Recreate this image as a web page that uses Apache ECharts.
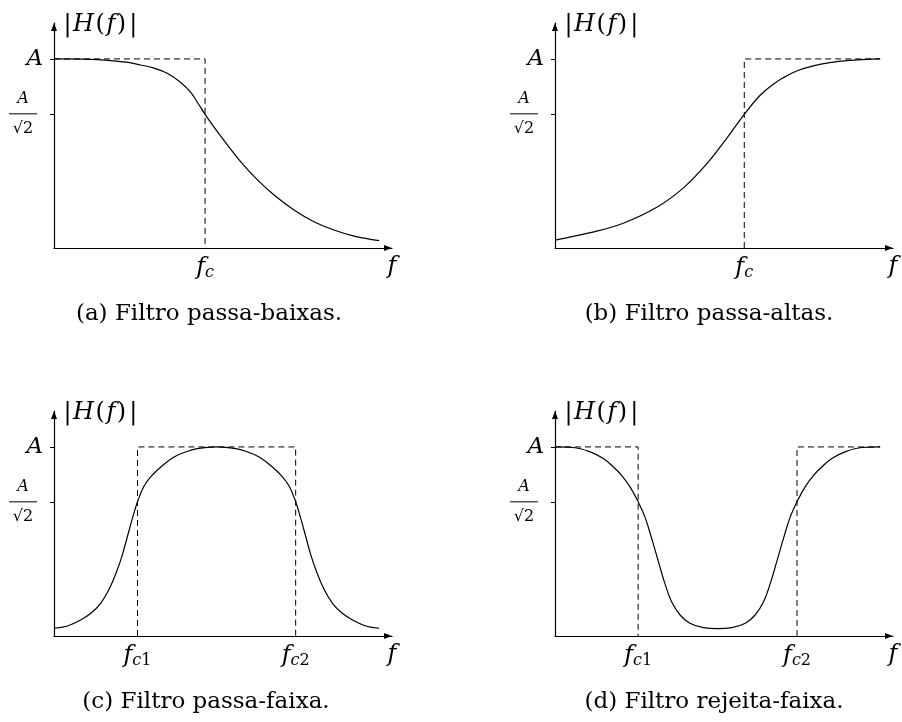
<!DOCTYPE html>
<html>
<head>
<meta charset="utf-8">
<script src="https://cdn.jsdelivr.net/npm/echarts@6/dist/echarts.min.js"></script>
<style>
  html, body { margin: 0; padding: 0; background: #fff; }
  #main { width: 902px; height: 722px; }
</style>
</head>
<body>
<div id="main"></div>
<script>
// eixo de frequência normalizado (0 .. fMax), ganho em unidades de A
const fMax = 10;
const gMax = 1.19;

// (a) passa-baixas
const lpFreq = [0, 1.09, 2.07, 2.56, 2.96, 3.35, 3.75, 4.04, 4.24, 4.47, 4.73, 5.13, 5.52, 6.02, 6.51, 7.10, 7.69, 8.28, 8.88, 9.62];
const lpGain = [1.0, 0.998, 0.984, 0.968, 0.951, 0.924, 0.875, 0.824, 0.771, 0.707, 0.641, 0.545, 0.457, 0.360, 0.280, 0.201, 0.139, 0.095, 0.063, 0.039];
const lpIdeal = [[0, 1], [4.47, 1], [4.47, 0]];
const lpTicks = [4.47, fMax];
const lpTickNames = ['f_c', 'f'];

// (b) passa-altas
const hpFreq = [0, 1.04, 2.02, 3.01, 3.80, 4.49, 5.08, 5.60, 6.07, 6.46, 6.75, 7.20, 7.64, 8.13, 8.63, 9.62];
const hpGain = [0.042, 0.081, 0.131, 0.215, 0.318, 0.445, 0.580, 0.707, 0.808, 0.866, 0.900, 0.940, 0.963, 0.980, 0.991, 1.0];
const hpIdeal = [[5.60, 0], [5.60, 1], [9.62, 1]];
const hpTicks = [5.60, fMax];
const hpTickNames = ['f_c', 'f'];

// (c) passa-faixa
const bpFreq = [0, 0.40, 0.79, 1.09, 1.38, 1.63, 1.87, 2.02, 2.17, 2.32, 2.47, 2.66, 2.86, 3.16, 3.55, 3.95, 4.24, 4.81,
                5.38, 5.67, 6.07, 6.46, 6.76, 6.96, 7.15, 7.30, 7.45, 7.60, 7.75, 7.99, 8.24, 8.53, 8.83, 9.22, 9.62];
const bpGain = [0.041, 0.053, 0.085, 0.120, 0.173, 0.247, 0.349, 0.428, 0.525, 0.622, 0.710, 0.792, 0.842, 0.894, 0.947, 0.977, 0.991, 1.0,
                0.991, 0.977, 0.947, 0.894, 0.842, 0.792, 0.710, 0.622, 0.525, 0.428, 0.349, 0.247, 0.173, 0.120, 0.085, 0.053, 0.041];
const bpIdeal = [[2.47, 0], [2.47, 1], [7.15, 1], [7.15, 0]];
const bpTicks = [2.47, 7.15, fMax];
const bpTickNames = ['f_c1', 'f_c2', 'f'];

// (d) rejeita-faixa
const bsFreq = [0, 0.54, 1.04, 1.43, 1.73, 1.97, 2.22, 2.46, 2.66, 2.86, 3.06, 3.25, 3.45, 3.70, 3.99, 4.39, 4.81,
                5.23, 5.63, 5.92, 6.17, 6.37, 6.56, 6.76, 6.96, 7.16, 7.40, 7.65, 7.89, 8.19, 8.58, 9.08, 9.62];
const bsGain = [1.0, 0.997, 0.974, 0.939, 0.894, 0.850, 0.789, 0.710, 0.630, 0.516, 0.393, 0.278, 0.181, 0.111, 0.067, 0.044, 0.039,
                0.044, 0.067, 0.111, 0.181, 0.278, 0.393, 0.516, 0.630, 0.710, 0.789, 0.850, 0.894, 0.939, 0.974, 0.997, 1.0];
const bsIdealLow = [[0, 1], [2.46, 1], [2.46, 0]];
const bsIdealHigh = [[7.16, 0], [7.16, 1], [9.62, 1]];
const bsTicks = [2.46, 7.16, fMax];
const bsTickNames = ['f_c1', 'f_c2', 'f'];

const gainTicks = [0.707, 1];
const captions = ['(a) Filtro passa-baixas.', '(b) Filtro passa-altas.', '(c) Filtro passa-faixa.', '(d) Filtro rejeita-faixa.'];

const serif = 'DejaVu Serif';

const panels = [
  { left: 54, top: 23, capX: 209, capY: 314, freq: lpFreq, gain: lpGain, ideal: [lpIdeal], ticks: lpTicks, names: lpTickNames },
  { left: 555, top: 23, capX: 709, capY: 314, freq: hpFreq, gain: hpGain, ideal: [hpIdeal], ticks: hpTicks, names: hpTickNames },
  { left: 54, top: 411, capX: 206, capY: 702, freq: bpFreq, gain: bpGain, ideal: [bpIdeal], ticks: bpTicks, names: bpTickNames },
  { left: 555, top: 411, capX: 714, capY: 702, freq: bsFreq, gain: bsGain, ideal: [bsIdealLow, bsIdealHigh], ticks: bsTicks, names: bsTickNames }
];

const mathRich = {
  i: { fontFamily: serif, fontStyle: 'italic', fontSize: 24, color: '#000' },
  u: { fontFamily: serif, fontSize: 24, color: '#000', padding: [0, 1.5, 0, 1.5] },
  si: { fontFamily: serif, fontStyle: 'italic', fontSize: 16, color: '#000', padding: [10, 0, 0, 0] },
  sn: { fontFamily: serif, fontSize: 16, color: '#000', padding: [10, 0, 0, 0] }
};

const gainRich = {
  a: { fontFamily: serif, fontStyle: 'italic', fontSize: 23, color: '#000' },
  n: { fontFamily: serif, fontStyle: 'italic', fontSize: 16, color: '#000', lineHeight: 17, width: 28, align: 'center' },
  bar: { width: 28, height: 1, lineHeight: 3, backgroundColor: '#000' },
  d: { fontFamily: serif, fontSize: 16, color: '#000', lineHeight: 18, width: 28, align: 'center' },
  sp: { width: 6 }
};

function freqLabel(name) {
  const parts = name.split('_');
  if (parts.length === 1) return '{i|' + parts[0] + '}';
  const letters = parts[1].replace(/[0-9]/g, '');
  const digits = parts[1].replace(/[^0-9]/g, '');
  return '{i|' + parts[0] + '}{si|' + letters + '}' + (digits ? '{sn|' + digits + '}' : '');
}

function gainLabel(v) {
  if (v > 0.9) return '{a|A}';
  return '{n|A}{sp| }\n{bar| }{sp| }\n{d|√2}{sp| }';
}

const grid = [], xAxis = [], yAxis = [], series = [], graphic = [];
panels.forEach(function (p, k) {
  grid.push({ left: p.left, top: p.top, width: 338, height: 225, containLabel: false, outerBoundsMode: 'none' });
  xAxis.push({
    type: 'value', gridIndex: k, min: 0, max: fMax,
    splitLine: { show: false },
    axisLine: { onZero: false, symbol: ['none', 'triangle'], symbolSize: [6, 8], symbolOffset: [0, -4], lineStyle: { color: '#000', width: 1.2 } },
    axisTick: { show: false },
    axisLabel: {
      customValues: p.ticks, margin: 7, color: '#000', rich: mathRich,
      formatter: function (v) { return freqLabel(p.names[p.ticks.indexOf(v)] || ''); }
    }
  });
  yAxis.push({
    type: 'value', gridIndex: k, min: 0, max: gMax,
    splitLine: { show: false },
    axisLine: { onZero: false, symbol: ['none', 'triangle'], symbolSize: [6, 8], symbolOffset: [0, -4], lineStyle: { color: '#000', width: 1.2 } },
    axisTick: { customValues: gainTicks, length: 4, lineStyle: { color: '#000', width: 1 } },
    axisLabel: { customValues: gainTicks, margin: 11, color: '#000', rich: gainRich, formatter: gainLabel },
    name: '{u||}{i|H}{u|(}{i|f}{u|)}{u||}',
    nameLocation: 'end', nameGap: -2,
    nameTextStyle: { align: 'left', verticalAlign: 'middle', padding: [0, 0, 0, 8], rich: mathRich }
  });
  yAxis.push({
    type: 'value', gridIndex: k, min: 0, max: gMax,
    splitLine: { show: false },
    axisLine: { show: false },
    axisTick: { customValues: gainTicks, inside: true, length: 4, lineStyle: { color: '#000', width: 1 } },
    axisLabel: { show: false }
  });
  series.push({
    type: 'line', xAxisIndex: k, yAxisIndex: 2 * k, smooth: 0.4, symbol: 'none',
    data: p.freq.map(function (f, j) { return [f, p.gain[j]]; }),
    lineStyle: { color: '#000', width: 1.2 }, z: 3
  });
  p.ideal.forEach(function (seg) {
    series.push({
      type: 'line', xAxisIndex: k, yAxisIndex: 2 * k, symbol: 'none', data: seg,
      lineStyle: { color: '#000', width: 1, type: [6, 4] }, z: 2
    });
  });
  graphic.push({
    type: 'text', x: p.capX, y: p.capY,
    style: { text: captions[k], font: '23px "' + serif + '"', fill: '#000', align: 'center', verticalAlign: 'middle' }
  });
});

const chart = echarts.init(document.getElementById('main'));
chart.setOption({
  animation: false,
  backgroundColor: '#fff',
  grid: grid, xAxis: xAxis, yAxis: yAxis, series: series, graphic: graphic
});
</script>
</body>
</html>
